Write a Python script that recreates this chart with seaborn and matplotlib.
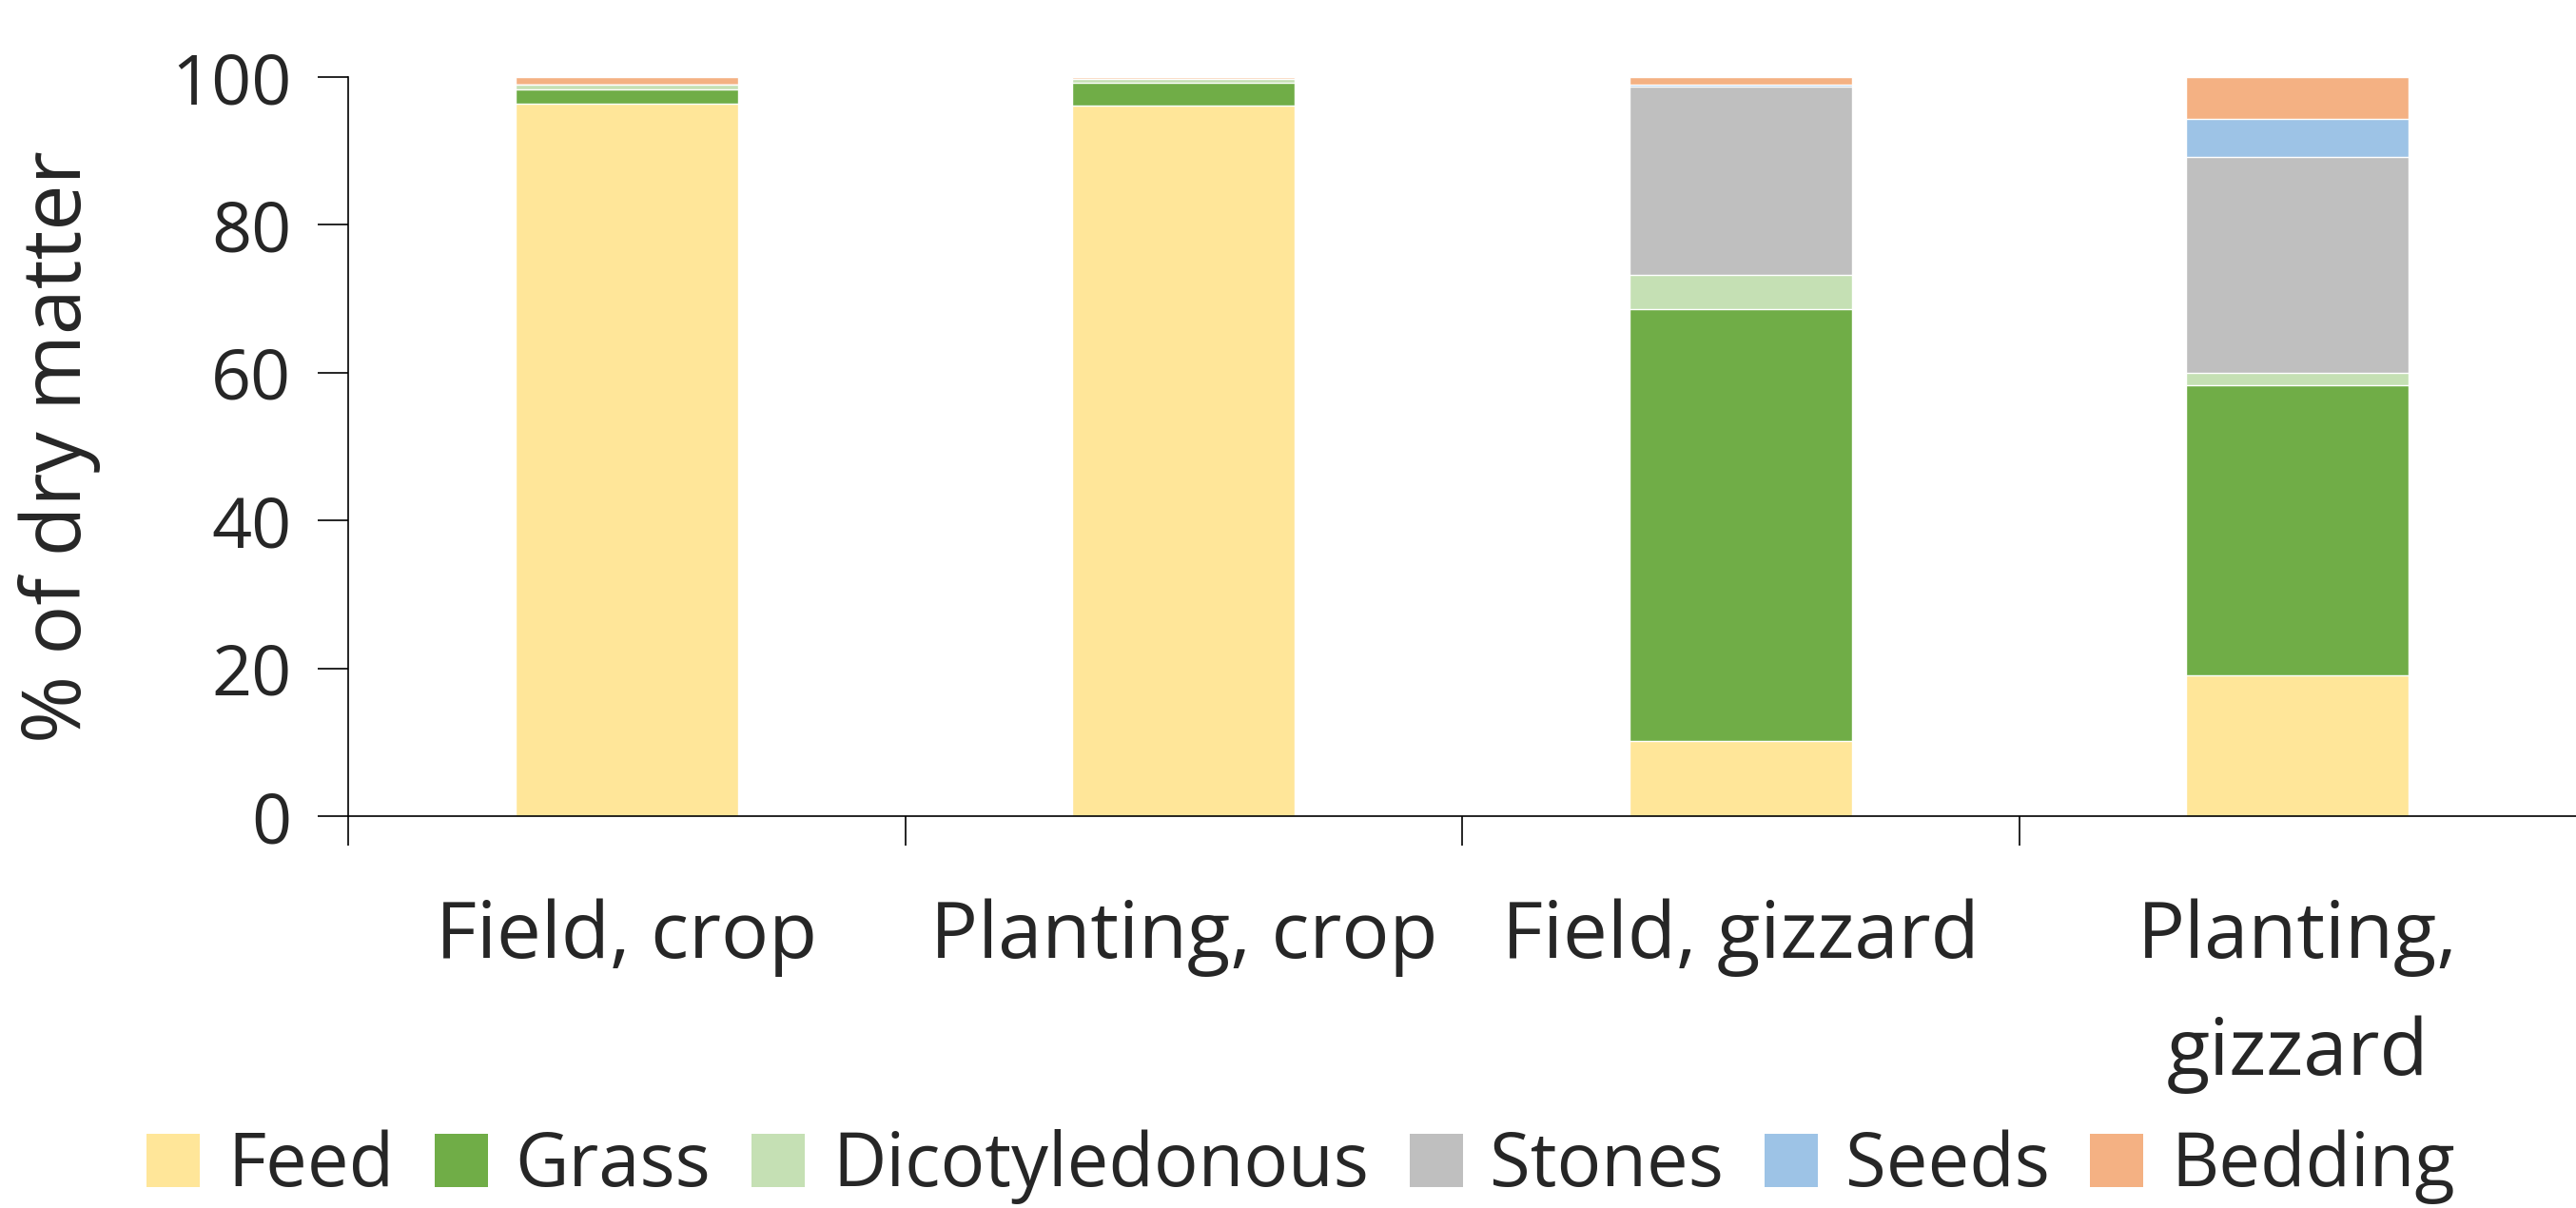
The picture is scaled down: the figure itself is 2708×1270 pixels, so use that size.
import pandas as pd
import matplotlib
matplotlib.use("Agg")
import matplotlib.pyplot as plt
import seaborn as sns
from matplotlib.patches import Patch

# data (% of dry matter)
groups = ['Field, crop', 'Planting, crop', 'Field, gizzard', 'Planting,\ngizzard']
components = ['Feed', 'Grass', 'Dicotyledonous', 'Stones', 'Seeds', 'Bedding']
feed = [96.4, 96.1, 10.2, 19.0]
grass = [1.9, 3.1, 58.4, 39.3]
dicot = [0.7, 0.6, 4.6, 1.7]
stones = [0.0, 0.0, 25.5, 29.2]
seeds = [0.0, 0.0, 0.3, 5.2]
bedding = [1.0, 0.2, 1.0, 5.6]
colors = ['#FFE699', '#70AD47', '#C5E0B4', '#BFBFBF', '#9DC3E6', '#F4B183']

df = pd.DataFrame({'Group': groups, 'Feed': feed, 'Grass': grass,
                   'Dicotyledonous': dicot, 'Stones': stones,
                   'Seeds': seeds, 'Bedding': bedding})
# cumulative totals so each layer can be drawn over the one above it
cum = df[components].cumsum(axis=1)
cum['Group'] = df['Group']

sns.set_style('white')
plt.rcParams['font.family'] = ['Open Sans', 'DejaVu Sans']

fig = plt.figure(figsize=(27.08, 12.70), dpi=100)
ax = fig.add_axes([0.1352, 0.3244, 0.8648, 0.6118])

for comp, col in reversed(list(zip(components, colors))):
    sns.barplot(data=cum, x='Group', y=comp, color=col, width=0.4,
                saturation=1, ax=ax)

ax.set_ylim(0, 100)
ax.set_xlim(-0.5, 3.5)
ax.set_yticks([0, 20, 40, 60, 80, 100])
ax.set_xlabel('')
ax.set_ylabel('% of dry matter', fontsize=62)
ax.yaxis.set_label_coords(-0.111, 0.5)

for s in ['top', 'right']:
    ax.spines[s].set_visible(False)
for s in ['left', 'bottom']:
    ax.spines[s].set_color('black')
    ax.spines[s].set_linewidth(1.2)

ax.tick_params(axis='y', direction='out', length=23, width=1.2,
               color='black', labelsize=53, pad=20, left=True)
ax.tick_params(axis='x', which='major', length=0, labelsize=60, pad=62)
ax.set_xticks([-0.5, 0.5, 1.5, 2.5], minor=True)
ax.tick_params(axis='x', which='minor', direction='out', length=22,
               width=1.2, color='black', bottom=True)
for lab in ax.get_xticklabels():
    lab.set_linespacing(1.65)

handles = [Patch(facecolor=c, edgecolor='none', label=n)
           for n, c in zip(components, colors)]
fig.legend(handles=handles, loc='center', bbox_to_anchor=(0.505, 0.034),
           ncol=6, frameon=False, fontsize=56, handlelength=0.72,
           handleheight=0.72, handletextpad=0.37, columnspacing=0.55,
           borderpad=0, borderaxespad=0)

fig.savefig('out.png', dpi=100)
